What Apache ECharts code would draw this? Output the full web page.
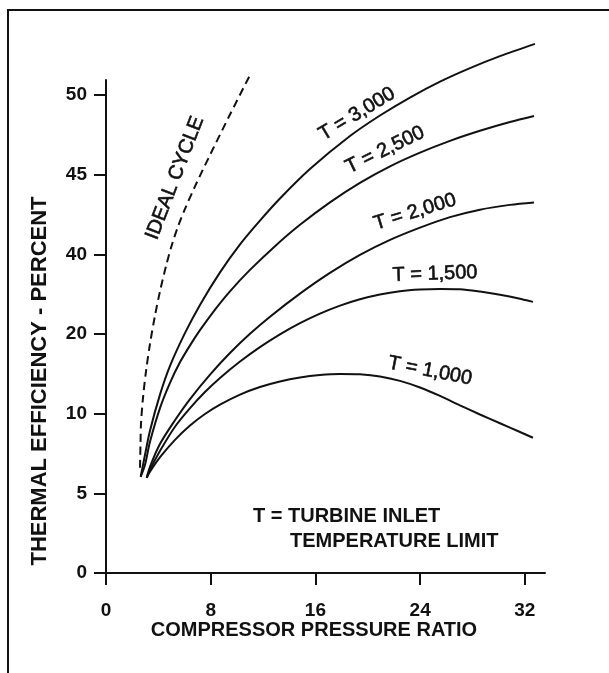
<!DOCTYPE html>
<html>
<head>
<meta charset="utf-8">
<script src="https://cdn.jsdelivr.net/npm/echarts@6/dist/echarts.min.js"></script>
<style>
html,body{margin:0;padding:0;background:#fff;}
#chart{width:609px;height:673px;}
</style>
</head>
<body>
<div id="chart"></div>
<script>
// ---- data (x = compressor pressure ratio, y = thermal efficiency, percent as printed on axis) ----
const xTicks = [0, 8, 16, 24, 32];
const yTickLabels = [0, 5, 10, 20, 40, 45, 50];

const idealX = [2.597, 2.636, 2.674, 2.827, 3.056, 3.361, 3.743, 4.125, 4.584, 5.042, 5.500, 6.035, 6.799, 7.945, 9.473, 11.0];
const idealY = [6.61, 8.11, 9.37, 12.00, 15.32, 18.77, 24.67, 30.74, 37.06, 40.62, 41.75, 42.86, 44.27, 46.24, 48.78, 51.26];

const t3000X = [2.65, 2.98, 3.36, 4.13, 4.89, 6.04, 7.18, 8.71, 10.24, 11.76, 13.29, 15.58, 18.64, 20.93, 23.22, 25.52, 27.81, 30.10, 32.77];
const t3000Y = [6.04, 7.42, 8.93, 12.43, 16.01, 20.30, 27.33, 35.48, 40.63, 42.12, 43.51, 45.36, 47.43, 48.72, 49.85, 50.85, 51.70, 52.45, 53.22];

const t2500X = [2.65, 2.98, 3.36, 4.13, 4.89, 5.65, 6.42, 7.18, 8.33, 9.47, 11.0, 12.91, 14.82, 17.11, 19.40, 21.70, 23.99, 26.28, 28.57, 30.86, 32.70];
const t2500Y = [6.04, 6.79, 8.24, 10.74, 13.88, 16.45, 18.58, 20.98, 26.15, 30.74, 36.11, 40.52, 41.86, 43.27, 44.49, 45.53, 46.39, 47.13, 47.76, 48.31, 48.69];

const t2000X = [3.11, 3.36, 4.13, 5.27, 6.42, 7.95, 9.47, 11.0, 12.53, 14.82, 17.11, 19.40, 21.70, 23.99, 26.28, 28.57, 30.86, 32.70];
const t2000Y = [5.98, 6.67, 8.11, 9.59, 11.84, 14.91, 17.62, 20.06, 24.37, 30.16, 35.36, 39.88, 40.91, 41.68, 42.34, 42.81, 43.11, 43.26];

const t1500X = [3.11, 3.36, 4.13, 5.27, 6.42, 7.56, 8.71, 10.24, 11.76, 13.29, 14.82, 16.35, 17.88, 19.40, 20.93, 22.46, 23.99, 25.52, 27.04, 28.57, 30.10, 31.63, 32.62];
const t1500Y = [5.98, 6.48, 7.67, 9.18, 10.70, 12.72, 14.49, 16.55, 18.36, 19.96, 22.74, 25.14, 27.15, 28.76, 29.96, 30.77, 31.19, 31.34, 31.26, 30.67, 29.86, 28.86, 28.08];

const t1000X = [3.11, 3.36, 4.13, 5.27, 6.42, 7.56, 8.71, 10.24, 11.76, 13.29, 14.82, 16.35, 17.88, 19.40, 20.93, 22.46, 23.99, 25.52, 27.04, 28.57, 30.10, 31.63, 32.62];
const t1000Y = [5.98, 6.36, 7.27, 8.36, 9.26, 9.98, 11.14, 12.40, 13.35, 14.05, 14.55, 14.86, 14.99, 14.94, 14.67, 14.12, 13.29, 12.23, 11.05, 9.95, 9.40, 8.85, 8.49];

// The printed axis is not linear: its labels sit at equal steps. Map a percent to its step position.
function toPos(v) {
  const t = yTickLabels;
  for (let i = 0; i < t.length - 1; i++) {
    if (v <= t[i + 1]) return i + (v - t[i]) / (t[i + 1] - t[i]);
  }
  const n = t.length - 1;
  return n + (v - t[n]) / (t[n] - t[n - 1]);
}
function pts(xs, ys) { return xs.map((x, i) => [x, toPos(ys[i])]); }

const FONT = '"Liberation Sans", Arial, Helvetica, sans-serif';
const chart = echarts.init(document.getElementById('chart'), null, {renderer: 'canvas'});

function lineSeries(name, xs, ys, dashed) {
  return {
    name: name, type: 'line', data: pts(xs, ys), smooth: 0.3, symbol: 'none', clip: false,
    lineStyle: {color: '#111', width: 2, type: dashed ? [8, 5] : 'solid'},
    animation: false
  };
}

function txt(text, x, y, deg, size, weight, align, thick) {
  const st = {
    text: text, fill: '#111', font: (weight || 'normal') + ' ' + size + 'px ' + FONT,
    align: align || 'center', verticalAlign: 'middle',
    textAlign: align || 'center', textVerticalAlign: 'middle'
  };
  if (thick) { st.stroke = '#111'; st.lineWidth = thick; }
  return {type: 'text', x: x, y: y, rotation: deg * Math.PI / 180, style: st, silent: true};
}

chart.setOption({
  animation: false,
  backgroundColor: '#fff',
  grid: {left: 106, right: 64, top: 80, bottom: 100},
  xAxis: {
    type: 'value', min: 0, max: 33.54,
    axisLine: {show: true, lineStyle: {color: '#111', width: 2}},
    axisTick: {show: true, length: 12, lineStyle: {color: '#111', width: 2}, customValues: xTicks},
    axisLabel: {customValues: xTicks, margin: 28, color: '#111', fontSize: 19, fontWeight: 'bold', fontFamily: FONT},
    splitLine: {show: false}
  },
  yAxis: {
    type: 'value', min: 0, max: 6.19,
    axisLine: {show: true, lineStyle: {color: '#111', width: 2}},
    axisTick: {show: true, length: 12, lineStyle: {color: '#111', width: 2}, customValues: [0,1,2,3,4,5,6]},
    axisLabel: {customValues: [0,1,2,3,4,5,6], margin: 19, color: '#111', fontSize: 19, fontWeight: 'bold', fontFamily: FONT,
      formatter: v => String(yTickLabels[Math.round(v)])},
    splitLine: {show: false}
  },
  series: [
    lineSeries('IDEAL CYCLE', idealX, idealY, true),
    lineSeries('T = 3,000', t3000X, t3000Y),
    lineSeries('T = 2,500', t2500X, t2500Y),
    lineSeries('T = 2,000', t2000X, t2000Y),
    lineSeries('T = 1,500', t1500X, t1500Y),
    lineSeries('T = 1,000', t1000X, t1000Y)
  ],
  graphic: [
    {type: 'rect', shape: {x: 8, y: 10, width: 700, height: 700}, style: {fill: null, stroke: '#111', lineWidth: 2}, silent: true},
    txt('THERMAL EFFICIENCY - PERCENT', 40, 381, 90, 22, 'bold'),
    txt('COMPRESSOR PRESSURE RATIO', 314, 630, 0, 20, 'bold'),
    txt('T = TURBINE INLET', 253, 516, 0, 20, 'bold', 'left'),
    txt('TEMPERATURE LIMIT', 290, 541, 0, 20, 'bold', 'left'),
    txt('IDEAL CYCLE', 175, 178, 69, 20, 'normal', 'center', 0.6),
    txt('T = 3,000', 357, 114, 31, 20, 'normal', 'center', 0.6),
    txt('T = 2,500', 385, 150, 26, 20, 'normal', 'center', 0.6),
    txt('T = 2,000', 415, 212, 17, 20, 'normal', 'center', 0.6),
    txt('T = 1,500', 435, 274, 2, 20, 'normal', 'center', 0.6),
    txt('T = 1,000', 430, 371, -11, 20, 'normal', 'center', 0.6)
  ]
});
</script>
</body>
</html>
